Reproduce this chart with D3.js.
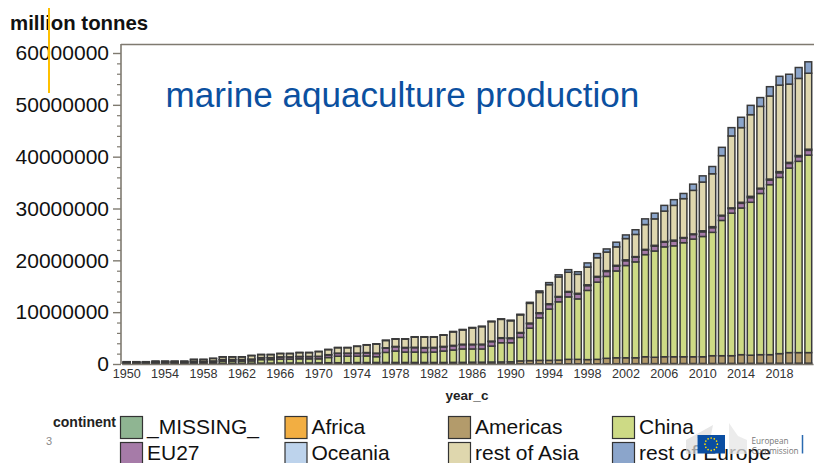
<!DOCTYPE html>
<html>
<head>
<meta charset="utf-8">
<script src="https://cdn.jsdelivr.net/npm/d3@7/dist/d3.min.js"></script>
<style>
  html, body { margin: 0; padding: 0; background: #fff; overflow: hidden; }
  svg { display: block; font-family: "Liberation Sans", Arial, sans-serif; }
</style>
</head>
<body>
<svg id="chart" width="814" height="463"></svg>
<script>
// Marine aquaculture production by continent, in millions of tonnes per year.
const firstYear = 1950;
const xTickYears = [1950,1954,1958,1962,1966,1970,1974,1978,1982,1986,1990,1994,1998,2002,2006,2010,2014,2018];
const yTickValues = [0,10000000,20000000,30000000,40000000,50000000,60000000];
const yMinorTicks = [2e6,4e6,6e6,8e6,12e6,14e6,16e6,18e6,22e6,24e6,26e6,28e6,32e6,34e6,36e6,38e6,42e6,44e6,46e6,48e6,52e6,54e6,56e6,58e6];

const missing = [
  0,0,0,0,0,0,0,0,0,0, 0,0,0,0,0,0,0,0,0,0,
  0,0,0,0,0,0,0,0,0,0, 0,0,0,0,0,0,0,0,0,0,
  0,0,0,0,0,0,0,0,0,0, 0,0,0,0,0,0,0,0,0,0,
  0,0,0,0,0,0,0,0,0,0,0,0];
const africa = [
  .01,.01,.01,.01,.01,.01,.01,.01,.01,.01, .01,.01,.01,.01,.01,.01,.01,.01,.01,.01,
  .01,.01,.01,.01,.01,.01,.01,.01,.01,.01, .02,.02,.02,.02,.02,.02,.02,.02,.02,.02,
  .03,.03,.03,.04,.04,.04,.05,.05,.05,.05, .06,.06,.07,.07,.08,.08,.09,.09,.1,.1,
  .11,.11,.12,.12,.13,.13,.14,.14,.15,.15,.16,.16];
const americas = [
  .07,.07,.07,.09,.09,.09,.09,.11,.11,.13, .14,.14,.14,.15,.17,.17,.19,.19,.19,.19,
  .21,.24,.24,.24,.27,.27,.29,.29,.29,.29, .28,.28,.28,.28,.3,.3,.33,.33,.36,.38,
  .39,.57,.62,.66,.66,.71,.85,.85,.8,.85, 1.04,1.14,1.13,1.13,1.32,1.22,1.31,1.31,1.3,1.3,
  1.29,1.49,1.48,1.48,1.67,1.57,1.66,1.66,1.85,2.05,2.04,2.04];
const china = [
  .12,.12,.12,.15,.15,.15,.15,.23,.23,.26, .4,.4,.4,.44,.67,.67,.75,.75,.8,.8,
  .78,1,1.25,1.25,1.22,1.27,1.11,1.94,2.2,2, 2,1.94,2,2.2,2.38,2.58,2.55,2.55,3.08,3.7,
  3.68,4.53,6.27,8.2,9.9,11.25,12.05,11.66,13.35,14.9, 15.8,16.75,17.8,18.5,19.7,20.5,21.2,21.4,22,22.7,
  23.2,23.8,26.1,27.5,28.3,29.5,31.1,32.8,34,35.6,36.9,38.1];
const eu27 = [
  .1,.1,.1,.12,.12,.12,.12,.15,.15,.18, .3,.3,.3,.32,.35,.35,.4,.4,.42,.42,
  .45,.5,.55,.55,.55,.6,.62,.82,.82,.82, .85,.85,.82,.8,.8,.82,.82,.82,.85,.85,
  .82,.82,.85,.85,.88,.88,.9,.92,.92,.95, .95,.92,.92,.9,.9,.92,.92,.9,.88,.88,
  .9,.9,.88,.9,.9,.9,.9,.88,.9,.9,.9,.92];
const oceania = [
  .01,.01,.01,.01,.01,.01,.01,.01,.01,.01, .02,.02,.02,.03,.03,.03,.03,.03,.04,.04,
  .04,.05,.05,.05,.06,.06,.07,.07,.07,.08, .08,.09,.09,.1,.1,.1,.1,.11,.11,.12,
  .12,.13,.13,.14,.14,.15,.15,.16,.16,.16, .17,.17,.18,.12,.12,.18,.12,.2,.12,.12,
  .2,.2,.12,.12,.2,.25,.12,.2,.22,.2,.22,.22];
const restOfAsia = [
  .12,.12,.12,.15,.15,.15,.15,.36,.36,.48, .49,.49,.49,.67,.58,.58,.63,.63,.73,.73,
  .9,.97,1.04,1.04,1.29,1.45,1.74,1.4,1.41,1.59, 1.95,2,1.97,2.15,2.59,2.75,3.13,3.37,3.75,3.54,
  3.3,3.4,3.8,3.91,3.68,3.77,3.7,3.66,3.42,3.59, 3.58,3.56,4.1,4.28,4.78,5.1,5.86,6.7,7.5,8.4,
  9.4,10.2,11.5,13.88,14.4,15.75,15.78,16.02,16.68,15.1,14.88,14.66];
const restOfEurope = [
  .02,.02,.02,.02,.02,.02,.02,.03,.03,.03, .04,.04,.04,.04,.04,.04,.04,.04,.05,.05,
  .05,.05,.06,.06,.06,.06,.06,.07,.07,.08, .08,.08,.08,.09,.09,.1,.1,.1,.1,.11,
  .12,.12,.2,.3,.4,.4,.5,.5,.8,.8, .6,.9,.7,.9,1.1,1.1,1.1,1.1,1,1.2,
  1.2,1.4,1.6,1.6,2,1.8,1.7,1.8,1.7,1.9,2.1,2.2];

const seriesNames = ["_MISSING_","Africa","Americas","China","EU27","Oceania","rest of Asia","rest of Europe"];
const seriesValues = [missing, africa, americas, china, eu27, oceania, restOfAsia, restOfEurope];
const seriesColors = ["#8fb592","#f2ae42","#b39b6b","#cdda85","#a67ba8","#bdd3ec","#dfd7ae","#8ba5cb"];

const years = china.map((_, i) => firstYear + i);
const rows = years.map((year, i) => {
  const row = { year };
  seriesNames.forEach((name, s) => { row[name] = seriesValues[s][i] * 1e6; });
  return row;
});

const svg = d3.select("#chart");
const x = d3.scaleBand().domain(years).range([121.9, 813.1]).paddingInner(0.29).paddingOuter(0.145);
const y = d3.scaleLinear().domain([0, 60000000]).range([364, 53]);

// Plot frame: the left and bottom edges come from the axes below.
svg.append("line").attr("x1", 121).attr("x2", 814).attr("y1", 44.5).attr("y2", 44.5)
  .attr("stroke", "#7f7a70").attr("stroke-width", 1.3);
svg.append("line").attr("x1", 121).attr("x2", 121).attr("y1", 44).attr("y2", 364)
  .attr("stroke", "#7f7a70").attr("stroke-width", 1.6);

// Stacked bars
const stacked = d3.stack().keys(seriesNames)(rows);
const layers = svg.append("g").selectAll("g").data(stacked).join("g")
  .attr("fill", (d, i) => seriesColors[i]);
layers.selectAll("rect")
  .data(d => d.filter(p => p[1] > p[0]))
  .join("rect")
  .attr("x", d => x(d.data.year))
  .attr("width", x.bandwidth())
  .attr("y", d => y(d[1]))
  .attr("height", d => y(d[0]) - y(d[1]))
  .attr("stroke", "#3a3a3a")
  .attr("stroke-width", 1.5);

// Axes
const tickColor = "#7f7a70";
const yAxis = d3.axisLeft(y).tickValues(yTickValues).tickSize(8).tickPadding(4).tickFormat(d3.format("d"));
const gy = svg.append("g").attr("transform", "translate(121,0)").call(yAxis);
gy.select(".domain").remove();
gy.selectAll("line").attr("stroke", tickColor).attr("stroke-width", 1.4);
gy.selectAll("text").attr("font-size", 21).attr("fill", "#111");
const gyMinor = svg.append("g").attr("transform", "translate(121,0)")
  .call(d3.axisLeft(y).tickValues(yMinorTicks).tickSize(4).tickFormat(""));
gyMinor.select(".domain").remove();
gyMinor.selectAll("line").attr("stroke", tickColor).attr("stroke-width", 1.2);

const xAxis = d3.axisBottom(x).tickValues(xTickYears).tickSize(0).tickPadding(5);
const gx = svg.append("g").attr("transform", "translate(0,364)").call(xAxis);
gx.select(".domain").attr("stroke", tickColor).attr("stroke-width", 1.4);
gx.selectAll("text").attr("font-size", 12.6).attr("fill", "#333");

// Axis captions and heading
svg.append("text").attr("x", 10).attr("y", 30).attr("font-size", 20.4).attr("font-weight", "bold")
  .attr("fill", "#111").text("million tonnes");
svg.append("text").attr("x", 467).attr("y", 400).attr("text-anchor", "middle").attr("font-size", 13.5)
  .attr("font-weight", "bold").attr("fill", "#222").text("year_c");
svg.append("text").attr("x", 165.5).attr("y", 107).attr("font-size", 35.1).attr("fill", "#0b50a0")
  .text("marine aquaculture production");

// Accent rule over the heading
svg.append("line").attr("x1", 49).attr("x2", 49).attr("y1", 8).attr("y2", 93)
  .attr("stroke", "#ffc000").attr("stroke-width", 2);

// Legend
const legendColumns = [120, 284.5, 448, 612];
const legendRows = [416, 442];
svg.append("text").attr("x", 116).attr("y", 427).attr("text-anchor", "end").attr("font-size", 14)
  .attr("font-weight", "bold").attr("fill", "#222").text("continent");
const legend = svg.append("g").selectAll("g").data(seriesNames).join("g")
  .attr("transform", (d, i) => `translate(${legendColumns[i % 4]},${legendRows[Math.floor(i / 4)]})`);
legend.append("rect").attr("x", 0.5).attr("y", 0.5).attr("width", 22).attr("height", 22)
  .attr("fill", (d, i) => seriesColors[i]).attr("stroke", "#333").attr("stroke-width", 1.2);
legend.append("text").attr("x", 27).attr("y", 17.5).attr("font-size", 21).attr("fill", "#111").text(d => d);

// Slide number
svg.append("text").attr("x", 46).attr("y", 445).attr("font-size", 11).attr("fill", "#8a8a8a").text("3");

// Institution mark in the slide footer
const footer = svg.append("g");
footer.append("path").attr("d", "M686 454 L686 440 L713 425 L711 435 L697 438 L697 454 Z").attr("fill", "#dcdcdc").attr("opacity", 0.7);
footer.append("path").attr("d", "M729 423 L738 436 L747 440 L747 454 L729 454 Z").attr("fill", "#e6e6e6").attr("opacity", 0.75);
footer.append("rect").attr("x", 697.5).attr("y", 435).attr("width", 27.5).attr("height", 18.5).attr("fill", "#0a4ea2");
const stars = d3.range(12).map(i => i * Math.PI / 6);
footer.selectAll("circle").data(stars).join("circle")
  .attr("cx", a => 711.2 + 6.2 * Math.cos(a)).attr("cy", a => 444.2 + 6.2 * Math.sin(a))
  .attr("r", 0.85).attr("fill", "#ffdd00");
footer.append("text").attr("x", 751.5).attr("y", 444).attr("font-size", 8.2).attr("fill", "#777").attr("font-family", "Open Sans, sans-serif").text("European");
footer.append("text").attr("x", 751.5).attr("y", 453.5).attr("font-size", 8.2).attr("fill", "#777").attr("font-family", "Open Sans, sans-serif").text("Commission");
footer.append("line").attr("x1", 802.5).attr("x2", 802.5).attr("y1", 435).attr("y2", 453.5).attr("stroke", "#2a6ab0").attr("stroke-width", 1.5);
</script>
</body>
</html>
